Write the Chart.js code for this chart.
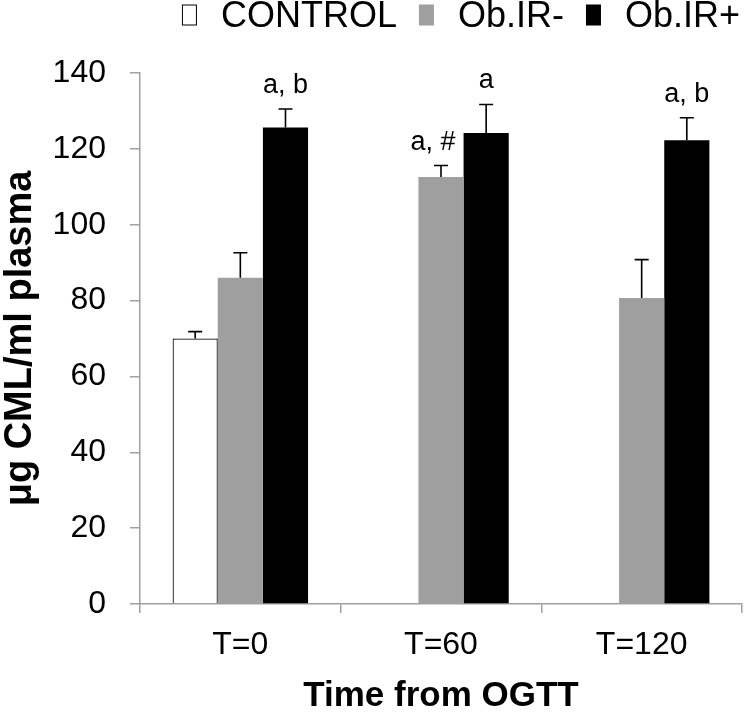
<!DOCTYPE html>
<html>
<head>
<meta charset="utf-8">
<script src="https://cdn.jsdelivr.net/npm/chart.js@4/dist/chart.umd.min.js"></script>
<style>
html,body{margin:0;padding:0;background:#fff;}
#wrap{width:744px;height:714px;}
</style>
</head>
<body>
<div id="wrap"><canvas id="c" width="744" height="714"></canvas></div>
<script>
// ---- data ----
const categories = ['T=0', 'T=60', 'T=120'];
const seriesNames = ['CONTROL', 'Ob.IR-', 'Ob.IR+'];
const controlValues = [70, null, null];
const obIRnegValues = [86, 112.6, 80.7];
const obIRposValues = [125.6, 124.2, 122.3];
const controlErrors = [1.8, null, null];
const obIRnegErrors = [6.6, 3.0, 10.1];
const obIRposErrors = [4.9, 7.5, 5.9];
const controlNotes = ['', '', ''];
const obIRnegNotes = ['', 'a, #', ''];
const obIRposNotes = ['a, b', 'a', 'a, b'];
const yMin = 0, yMax = 140, yStep = 20;
const xTitle = 'Time from OGTT';
const yTitle = 'μg CML/ml plasma';

const errorSets = [controlErrors, obIRnegErrors, obIRposErrors];
const noteSets = [controlNotes, obIRnegNotes, obIRposNotes];

const FONT = '"Liberation Sans", Arial, Helvetica, sans-serif';
Chart.defaults.font.family = FONT;
Chart.defaults.color = '#000';

const AXIS_GRAY = '#a0a0a0';
const NOTE_SHIFT_X = [0, -8, 0]; // style: small horizontal nudge of notes per series

const errorBarPlugin = {
  id: 'errorBars',
  afterDatasetsDraw(chart) {
    const ctx = chart.ctx;
    const yScale = chart.scales.y;
    chart.data.datasets.forEach((ds, di) => {
      const meta = chart.getDatasetMeta(di);
      meta.data.forEach((bar, i) => {
        const v = ds.data[i];
        if (v === null || v === undefined) return;
        const e = errorSets[di][i] || 0;
        const x = bar.x;
        const yTop = yScale.getPixelForValue(v);
        const yErr = yScale.getPixelForValue(v + e);
        ctx.save();
        ctx.strokeStyle = '#000';
        ctx.lineWidth = 1.6;
        ctx.beginPath();
        ctx.moveTo(x, yTop);
        ctx.lineTo(x, yErr);
        ctx.moveTo(x - 7, yErr);
        ctx.lineTo(x + 7, yErr);
        ctx.stroke();
        const note = noteSets[di][i];
        if (note) {
          ctx.font = '27px ' + FONT;
          ctx.fillStyle = '#000';
          ctx.textAlign = 'center';
          ctx.textBaseline = 'alphabetic';
          ctx.fillText(note, x + NOTE_SHIFT_X[di], yErr - 16);
        }
        ctx.restore();
      });
    });
  }
};

const legendPlugin = {
  id: 'topLegend',
  afterDraw(chart) {
    const ctx = chart.ctx;
    const boxW = 15, boxH = 21, gapText = 24, gapItem = 22, right = 740, cy = 15;
    ctx.save();
    ctx.font = '36px ' + FONT;
    const ds = chart.data.datasets;
    const widths = ds.map(d => ctx.measureText(d.label).width);
    let total = 0;
    widths.forEach(w => { total += boxW + gapText + w; });
    total += gapItem * (ds.length - 1);
    let x = right - total;
    ds.forEach((d, i) => {
      ctx.fillStyle = d.backgroundColor;
      ctx.fillRect(x, cy - boxH / 2, boxW, boxH);
      if (d.borderWidth) {
        ctx.strokeStyle = d.borderColor;
        ctx.lineWidth = 1;
        ctx.strokeRect(x + 0.5, cy - boxH / 2 + 0.5, boxW - 1, boxH - 1);
      }
      x += boxW + gapText;
      ctx.fillStyle = '#000';
      ctx.textAlign = 'left';
      ctx.textBaseline = 'middle';
      ctx.fillText(d.label, x, cy + 2);
      x += widths[i] + gapItem;
    });
    ctx.restore();
  }
};

new Chart(document.getElementById('c'), {
  type: 'bar',
  data: {
    labels: categories,
    datasets: [
      { label: seriesNames[0], data: controlValues, backgroundColor: '#ffffff', borderColor: '#000000', borderWidth: 1.2 },
      { label: seriesNames[1], data: obIRnegValues, backgroundColor: '#9f9f9f', borderWidth: 0 },
      { label: seriesNames[2], data: obIRposValues, backgroundColor: '#000000', borderWidth: 0 }
    ]
  },
  options: {
    responsive: false,
    animation: false,
    devicePixelRatio: 1,
    layout: { padding: { top: 73, right: 2, bottom: 0, left: 0 } },
    datasets: { bar: { categoryPercentage: 0.675, barPercentage: 1.0 } },
    plugins: { legend: { display: false }, tooltip: { enabled: false } },
    scales: {
      x: {
        grid: { display: true, drawOnChartArea: false, offset: true, tickLength: 9, color: AXIS_GRAY, lineWidth: 1.5 },
        border: { display: true, color: AXIS_GRAY, width: 1.5 },
        ticks: { color: '#000', font: { size: 32, lineHeight: 1 }, padding: 16 },
        title: { display: true, text: xTitle, color: '#000', font: { size: 35, weight: 'bold', lineHeight: 1 }, padding: 0 },
        afterFit(s) { s.height = 110; }
      },
      y: {
        min: yMin, max: yMax,
        grid: { display: true, drawOnChartArea: false, tickLength: 10, color: AXIS_GRAY, lineWidth: 1.5 },
        border: { display: true, color: AXIS_GRAY, width: 1.5 },
        ticks: { stepSize: yStep, color: '#000', font: { size: 32, lineHeight: 1 }, padding: 24 },
        title: { display: true, text: yTitle, color: '#000', font: { size: 38, weight: 'bold', lineHeight: 1.1 }, padding: 0 },
        afterFit(s) { s.width = 140; }
      }
    }
  },
  plugins: [errorBarPlugin, legendPlugin]
});
</script>
</body>
</html>
